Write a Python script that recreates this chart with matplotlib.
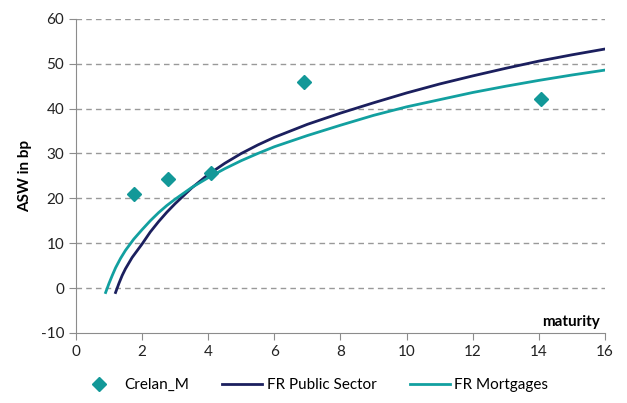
import numpy as np
import matplotlib.pyplot as plt

plt.rcParams['font.family'] = ['Lato', 'DejaVu Sans']
plt.rcParams['axes.unicode_minus'] = False

# Crelan_M bonds
crelan_x = [1.75, 2.8, 4.1, 6.9, 14.05]
crelan_y = [21.0, 24.2, 25.7, 46.0, 42.2]

# FR Public Sector curve
pub_x = [1.2, 1.3, 1.4, 1.5, 1.7, 2.0, 2.25, 2.5, 2.75, 3.0, 3.5, 4.0, 4.5, 5.0, 5.5, 6.0, 7.0, 8.0, 9.0, 10.0, 11.0, 12.0, 13.0, 14.0, 15.0, 16.0]
pub_y = [-1.0, 1.0, 2.8, 4.3, 6.8, 9.8, 12.5, 14.8, 16.9, 18.8, 22.3, 25.3, 27.8, 30.0, 31.9, 33.6, 36.5, 39.0, 41.3, 43.5, 45.5, 47.3, 49.0, 50.6, 52.0, 53.3]

# FR Mortgages curve
mort_x = [0.9, 1.0, 1.1, 1.2, 1.35, 1.5, 1.75, 2.0, 2.25, 2.5, 2.75, 3.0, 3.5, 4.0, 4.5, 5.0, 5.5, 6.0, 7.0, 8.0, 9.0, 10.0, 11.0, 12.0, 13.0, 14.0, 15.0, 16.0]
mort_y = [-1.0, 1.0, 2.8, 4.5, 6.6, 8.4, 10.9, 13.0, 15.0, 16.8, 18.4, 19.8, 22.4, 24.6, 26.6, 28.4, 30.0, 31.5, 34.0, 36.3, 38.5, 40.4, 42.0, 43.6, 45.0, 46.3, 47.5, 48.6]

navy = '#1b1f5e'
teal = '#12a0a0'
grey = '#8c8c8c'

fig = plt.figure(figsize=(6.27, 4.03), dpi=100)
ax = fig.add_axes([0.121, 0.174, 0.844, 0.779])

ax.plot(crelan_x, crelan_y, linestyle='none', marker='D', markersize=7, color='#129898', label='Crelan_M', zorder=3)
ax.plot(pub_x, pub_y, color=navy, lw=2, label='FR Public Sector', zorder=2)
ax.plot(mort_x, mort_y, color=teal, lw=2, label='FR Mortgages', zorder=2)

ax.set_xlim(0, 16)
ax.set_ylim(-10, 60)
ax.set_xticks(np.arange(0, 17, 2))
ax.set_yticks(np.arange(-10, 61, 10))
for yv in range(0, 61, 10):
    ax.axhline(yv, color='#999999', lw=1, ls=(0, (4, 3)), zorder=1)

for s in ['top', 'right']:
    ax.spines[s].set_visible(False)
for s in ['left', 'bottom']:
    ax.spines[s].set_color(grey)
ax.tick_params(direction='out', color=grey, length=5, labelsize=11, labelcolor='#222222')

ax.set_ylabel('ASW in bp', fontsize=11, fontweight='bold', labelpad=6)
ax.text(15.85, -9.2, 'maturity', ha='right', va='bottom', fontsize=11, fontweight='bold')

leg = ax.legend(loc='upper center', bbox_to_anchor=(0.45, -0.1), ncol=3, frameon=False,
                fontsize=11, handlelength=2.6, handletextpad=0.3, columnspacing=2.2)

fig.savefig('out.png', dpi=100)
